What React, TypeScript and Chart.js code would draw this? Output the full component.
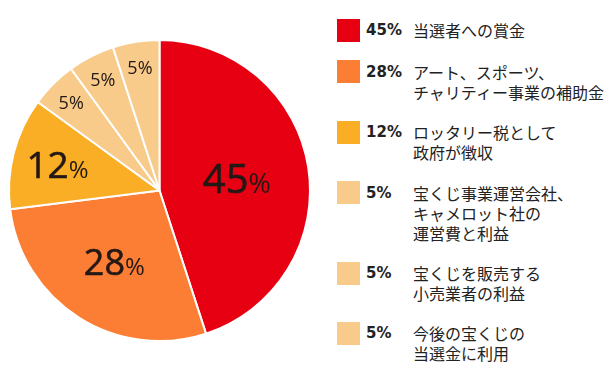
import React, { useEffect, useRef } from "react";
import { Chart, registerables } from "chart.js";

Chart.register(...registerables);

const categories = [
  "当選者への賞金",
  "アート、スポーツ、\nチャリティー事業の補助金",
  "ロッタリー税として\n政府が徴収",
  "宝くじ事業運営会社、\nキャメロット社の\n運営費と利益",
  "宝くじを販売する\n小売業者の利益",
  "今後の宝くじの\n当選金に利用",
];
const shares = [45, 28, 12, 5, 5, 5];
const sliceColors = ["#E60012", "#FC7E34", "#F9AE25", "#F8CB8B", "#F8CB8B", "#F8CB8B"];

// label layout: radius factor, digit font size, percent font size, extra stroke
const labelLayout = [
  { r: 0.52, big: 40, small: 27, bold: 0.016 },
  { r: 0.56, big: 36, small: 24, bold: 0.016 },
  { r: 0.7, big: 37, small: 24, bold: 0.016 },
  { r: 0.83, big: 18, small: 18, bold: 0 },
  { r: 0.83, big: 18, small: 18, bold: 0 },
  { r: 0.83, big: 18, small: 18, bold: 0 },
];

const labelPlugin = {
  id: "sliceLabels",
  afterDatasetsDraw(chart: any) {
    const meta = chart.getDatasetMeta(0);
    const ctx = chart.ctx as CanvasRenderingContext2D;
    ctx.save();
    ctx.fillStyle = "#231815";
    ctx.strokeStyle = "#231815";
    ctx.lineJoin = "round";
    ctx.textBaseline = "alphabetic";
    ctx.textAlign = "left";
    meta.data.forEach((arc: any, i: number) => {
      const p = arc.getProps(["x", "y", "startAngle", "endAngle", "outerRadius"], true);
      const L = labelLayout[i];
      const mid = (p.startAngle + p.endAngle) / 2;
      const r = p.outerRadius * L.r;
      const cx = p.x + Math.cos(mid) * r;
      const cy = p.y + Math.sin(mid) * r;
      const num = String(shares[i]);
      ctx.font = `${L.big}px "Open Sans"`;
      const w1 = ctx.measureText(num).width;
      ctx.font = `${L.small}px "Open Sans"`;
      const w2 = ctx.measureText("%").width;
      const left = cx - (w1 + w2) / 2;
      const base = cy + (L.big * 0.714) / 2;
      ctx.font = `${L.big}px "Open Sans"`;
      ctx.fillText(num, left, base);
      if (L.bold > 0) {
        ctx.lineWidth = L.big * L.bold;
        ctx.strokeText(num, left, base);
      }
      ctx.font = `${L.small}px "Open Sans"`;
      ctx.fillText("%", left + w1, base);
    });
    ctx.restore();
  },
};

export default function App() {
  const ref = useRef<HTMLCanvasElement>(null);
  useEffect(() => {
    document.body.style.margin = "0";
    if (!ref.current) return;
    const chart = new Chart(ref.current, {
      type: "pie",
      data: {
        labels: categories,
        datasets: [
          {
            data: shares,
            backgroundColor: sliceColors,
            borderColor: "#ffffff",
            borderWidth: 2,
          },
        ],
      },
      options: {
        responsive: false,
        animation: false,
        layout: { padding: { left: 8, top: 39, right: 9, bottom: 34 } },
        plugins: {
          legend: { display: false },
          tooltip: { enabled: false },
        },
      },
      plugins: [labelPlugin],
    });
    (document as any).fonts?.load?.('40px "Open Sans"').then(() => chart.draw()).catch(() => {});
    return () => chart.destroy();
  }, []);

  return (
    <div style={{ position: "relative", width: 610, height: 376, overflow: "hidden", background: "#fff" }}>
      <canvas ref={ref} width={320} height={376} style={{ position: "absolute", left: 0, top: 0 }} />
      <div
        style={{
          position: "absolute",
          left: 337,
          top: 20,
          display: "flex",
          flexDirection: "column",
          gap: 20.4,
          color: "#222",
        }}
      >
        {categories.map((c, i) => (
          <div key={i} style={{ display: "flex", alignItems: "flex-start" }}>
            <div style={{ width: 23, height: 23, background: sliceColors[i], marginTop: -1.5, flexShrink: 0 }} />
            <div
              style={{
                width: 47,
                marginLeft: 6,
                fontFamily: '"DejaVu Sans", sans-serif',
                fontWeight: 700,
                fontSize: 15,
                lineHeight: "20px",
                flexShrink: 0,
              }}
            >
              {shares[i]}%
            </div>
            <div
              style={{
                whiteSpace: "pre-line",
                fontFamily: '"Noto Sans CJK JP", sans-serif',
                fontSize: 16,
                lineHeight: "20px",
              }}
            >
              {c}
            </div>
          </div>
        ))}
      </div>
    </div>
  );
}
